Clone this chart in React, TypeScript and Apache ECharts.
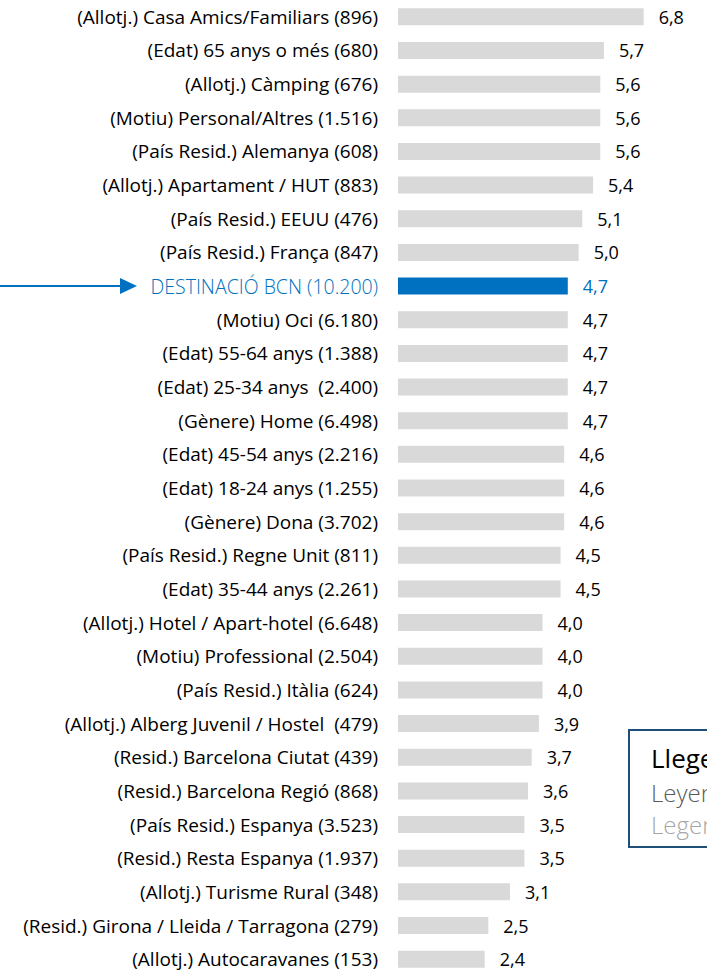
import React, { useEffect, useRef } from "react";
import * as echarts from "echarts";

const categories = [
  "(Allotj.) Casa Amics/Familiars (896)",
  "(Edat) 65 anys o més (680)",
  "(Allotj.) Càmping (676)",
  "(Motiu) Personal/Altres (1.516)",
  "(País Resid.) Alemanya (608)",
  "(Allotj.) Apartament / HUT (883)",
  "(País Resid.) EEUU (476)",
  "(País Resid.) França (847)",
  "DESTINACIÓ BCN (10.200)",
  "(Motiu) Oci (6.180)",
  "(Edat) 55-64 anys (1.388)",
  "(Edat) 25-34 anys  (2.400)",
  "(Gènere) Home (6.498)",
  "(Edat) 45-54 anys (2.216)",
  "(Edat) 18-24 anys (1.255)",
  "(Gènere) Dona (3.702)",
  "(País Resid.) Regne Unit (811)",
  "(Edat) 35-44 anys (2.261)",
  "(Allotj.) Hotel / Apart-hotel (6.648)",
  "(Motiu) Professional (2.504)",
  "(País Resid.) Itàlia (624)",
  "(Allotj.) Alberg Juvenil / Hostel  (479)",
  "(Resid.) Barcelona Ciutat (439)",
  "(Resid.) Barcelona Regió (868)",
  "(País Resid.) Espanya (3.523)",
  "(Resid.) Resta Espanya (1.937)",
  "(Allotj.) Turisme Rural (348)",
  "(Resid.) Girona / Lleida / Tarragona (279)",
  "(Allotj.) Autocaravanes (153)",
];

const values = [
  6.8, 5.7, 5.6, 5.6, 5.6, 5.4, 5.1, 5.0, 4.7, 4.7, 4.7, 4.7, 4.7, 4.6, 4.6,
  4.6, 4.5, 4.5, 4.0, 4.0, 4.0, 3.9, 3.7, 3.6, 3.5, 3.5, 3.1, 2.5, 2.4,
];

const highlight = "DESTINACIÓ BCN (10.200)";
const legendLines = ["Llegenda", "Leyenda", "Legend"];

const FONT = "'Open Sans', sans-serif";
const BLUE = "#0070C0";

export default function App() {
  const ref = useRef<HTMLDivElement>(null);

  useEffect(() => {
    if (!ref.current) return;
    const chart = echarts.init(ref.current, null, { renderer: "svg" });
    const option: any = {
      animation: false,
      grid: { left: 398, top: 0, width: 289, height: 983 },
      xAxis: {
        type: "value",
        min: 0,
        max: 8,
        show: false,
      },
      yAxis: {
        type: "category",
        inverse: true,
        data: categories,
        axisLine: { show: false },
        axisTick: { show: false },
        splitLine: { show: false },
        axisLabel: {
          margin: 20,
          fontFamily: FONT,
          fontSize: 19,
          color: "#000",
          formatter: (v: string) => (v === highlight ? `{hl|${v}}` : v),
          rich: {
            hl: {
              fontFamily: FONT,
              fontSize: 19.5,
              fontWeight: 300,
              color: BLUE,
            },
          },
        },
      },
      series: [
        {
          type: "bar",
          barWidth: 17,
          data: values.map((v, i) => ({
            value: v,
            itemStyle: { color: categories[i] === highlight ? BLUE : "#D9D9D9" },
            label: {
              color: categories[i] === highlight ? BLUE : "#000",
            },
          })),
          label: {
            show: true,
            position: "right",
            distance: 15,
            fontFamily: FONT,
            fontSize: 18,
            formatter: (p: any) => p.value.toFixed(1).replace(".", ","),
          },
        },
      ],
    };
    chart.setOption(option);

    const y = chart.convertToPixel({ yAxisIndex: 0 }, highlight) as number;
    chart.setOption({
      graphic: [
        {
          type: "line",
          shape: { x1: 0, y1: y, x2: 124, y2: y },
          style: { stroke: BLUE, lineWidth: 2 },
        },
        {
          type: "polygon",
          shape: {
            points: [
              [120, y - 8],
              [137, y],
              [120, y + 8],
            ],
          },
          style: { fill: BLUE },
        },
        {
          type: "rect",
          shape: { x: 629, y: 730, width: 120, height: 117 },
          style: { fill: "#fff", stroke: "#1F4E79", lineWidth: 2 },
          z: 10,
        },
        {
          type: "text",
          x: 651,
          y: 771,
          z: 11,
          style: {
            text: legendLines[0],
            fontFamily: FONT,
            fontSize: 26,
            fill: "#000",
            verticalAlign: "bottom",
          },
        },
        {
          type: "text",
          x: 651,
          y: 804,
          z: 11,
          style: {
            text: legendLines[1],
            fontFamily: FONT,
            fontSize: 24,
            fontWeight: 300,
            fill: "#595959",
            verticalAlign: "bottom",
          },
        },
        {
          type: "text",
          x: 651,
          y: 836,
          z: 11,
          style: {
            text: legendLines[2],
            fontFamily: FONT,
            fontSize: 24,
            fontWeight: 300,
            fill: "#A6A6A6",
            verticalAlign: "bottom",
          },
        },
      ],
    });

    return () => chart.dispose();
  }, []);

  return (
    <div
      ref={ref}
      style={{ position: "absolute", left: 0, top: 0, width: 707, height: 976 }}
    />
  );
}
